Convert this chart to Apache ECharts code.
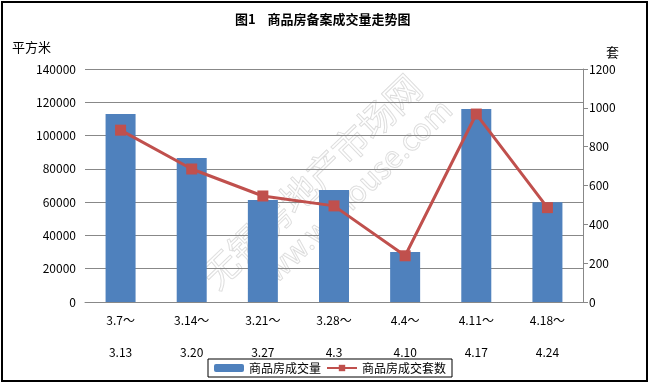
<!DOCTYPE html>
<html>
<head>
<meta charset="utf-8">
<script src="https://cdn.jsdelivr.net/npm/echarts@6/dist/echarts.min.js"></script>
<style>
html,body{margin:0;padding:0;background:#fff;}
#chart{width:650px;height:386px;}
</style>
</head>
<body>
<div id="chart"></div>
<script>
var categories = ['3.7～\n\n3.13','3.14～\n\n3.20','3.21～\n\n3.27','3.28～\n\n4.3','4.4～\n\n4.10','4.11～\n\n4.17','4.18～\n\n4.24'];
var areaValues = [113000, 86500, 61300, 67300, 30000, 116000, 60000];
var unitValues = [885, 685, 546, 495, 238, 968, 486];
var leftTicks = [0, 140000, 20000];
var rightTicks = [0, 1200, 200];
var seriesNames = ['商品房成交量', '商品房成交套数'];

var FONT = 'SimSun, "Noto Sans CJK SC", sans-serif';
var plain = function (v) { return String(v); };
var chart = echarts.init(document.getElementById('chart'));
chart.setOption({
  animation: false,
  backgroundColor: '#fff',
  textStyle: {fontFamily: FONT},
  grid: {left: 85, right: 67, top: 69, bottom: 84},
  legend: {
    left: 208, top: 359,
    data: seriesNames,
    borderColor: '#000', borderWidth: 1,
    padding: [3, 6, 3, 6],
    itemGap: 5,
    itemWidth: 30, itemHeight: 8,
    textStyle: {fontSize: 12, color: '#000', fontFamily: FONT}
  },
  xAxis: {
    type: 'category',
    data: categories,
    axisLine: {lineStyle: {color: '#888', width: 1}},
    axisTick: {show: false},
    axisLabel: {color: '#000', fontSize: 12, lineHeight: 16, margin: 10, interval: 0, fontFamily: FONT}
  },
  yAxis: [{
    type: 'value',
    min: leftTicks[0], max: leftTicks[1], interval: leftTicks[2],
    axisLine: {show: false},
    axisTick: {show: false},
    axisLabel: {color: '#000', fontSize: 12, margin: 9, fontFamily: FONT, formatter: plain},
    splitLine: {lineStyle: {color: '#888', width: 1}}
  }, {
    type: 'value',
    min: rightTicks[0], max: rightTicks[1], interval: rightTicks[2],
    position: 'right',
    axisLine: {show: true, lineStyle: {color: '#888', width: 1}},
    axisTick: {show: true, length: 5, lineStyle: {color: '#888'}},
    axisLabel: {color: '#000', fontSize: 12, margin: 6, fontFamily: FONT, formatter: plain},
    splitLine: {show: false}
  }],
  series: [{
    name: seriesNames[0],
    type: 'bar',
    data: areaValues,
    barWidth: 30,
    itemStyle: {color: '#4F81BD'},
    z: 2
  }, {
    name: seriesNames[1],
    type: 'line',
    yAxisIndex: 1,
    data: unitValues,
    symbol: 'rect',
    symbolSize: 11,
    lineStyle: {color: '#C0504D', width: 3},
    itemStyle: {color: '#C0504D'},
    z: 3
  }],
  graphic: [
    {type: 'rect', shape: {x: 2, y: 2, width: 645, height: 379}, style: {fill: 'none', stroke: '#000', lineWidth: 2}, z: 0, silent: true},
    {type: 'text', left: 235, top: 13, style: {text: '图1    商品房备案成交量走势图', font: 'bold 13px ' + FONT, fill: '#000'}},
    {type: 'text', left: 12, top: 41, style: {text: '平方米', font: '13px ' + FONT, fill: '#000'}},
    {type: 'text', left: 606, top: 46, style: {text: '套', font: '13px ' + FONT, fill: '#000'}},
    {type: 'group', x: 320, y: 190, rotation: 44 * Math.PI / 180, z: 100, silent: true,
      children: [
        {type: 'text', style: {text: '无锡房地产市场网', font: '36px "Noto Sans CJK SC"', fill: 'rgba(255,255,255,0.3)', stroke: 'rgba(200,200,200,0.7)', lineWidth: 1, textAlign: 'center', textVerticalAlign: 'middle'}, x: 0, y: -12},
        {type: 'text', style: {text: 'www.wxhouse.com', font: '30px "Noto Sans CJK SC"', fill: 'rgba(255,255,255,0.3)', stroke: 'rgba(200,200,200,0.7)', lineWidth: 1, textAlign: 'center', textVerticalAlign: 'middle'}, x: 15, y: 26}
      ]}
  ]
});
</script>
</body>
</html>
